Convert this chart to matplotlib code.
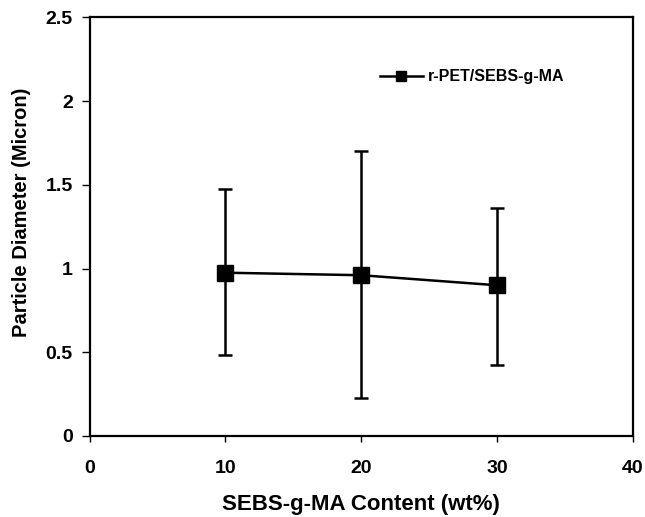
import matplotlib
matplotlib.use("Agg")
import matplotlib.pyplot as plt
from matplotlib.lines import Line2D

# SEBS-g-MA content (wt%) and particle diameter (micron)
content = [10, 20, 30]
diameter = [0.975, 0.96, 0.90]
err_low = [0.485, 0.228, 0.422]
err_high = [1.475, 1.70, 1.36]
series_name = "r-PET/SEBS-g-MA"

plt.rcParams["font.family"] = ["Liberation Sans", "DejaVu Sans"]
plt.rcParams["font.weight"] = "bold"

fig = plt.figure(figsize=(6.45, 5.17), dpi=100)
ax = fig.add_axes([89.5 / 645, 1 - 436 / 517, (633 - 89.5) / 645, (436 - 17.3) / 517])

yerr = [[d - lo for d, lo in zip(diameter, err_low)],
        [hi - d for d, hi in zip(diameter, err_high)]]
ax.errorbar(content, diameter, yerr=yerr, color="black", lw=1.8,
            elinewidth=1.8, capsize=5, capthick=1.8, marker="s",
            markersize=12)

ax.set_xlim(0, 40)
ax.set_ylim(0, 2.5)
ax.set_xticks([0, 10, 20, 30, 40])
ax.set_yticks([0, 0.5, 1, 1.5, 2, 2.5])
ax.set_yticklabels(["0", "0.5", "1", "1.5", "2", "2.5"])
ax.tick_params(labelsize=14, width=1, direction="out")
ax.tick_params(axis="x", length=4, pad=13)
ax.tick_params(axis="y", length=6, pad=6)
for s in ax.spines.values():
    s.set_linewidth(1.6)

ax.set_xlabel("SEBS-g-MA Content (wt%)", fontsize=16, fontweight="bold")
ax.set_ylabel("Particle Diameter (Micron)", fontsize=14.5, fontweight="bold")
ax.xaxis.set_label_coords(0.5, -0.138)
ax.yaxis.set_label_coords(-0.108, 0.535)

handle = Line2D([], [], color="black", lw=1.8, marker="s", markersize=6.5)
ax.legend([handle], [series_name], loc="center left",
          bbox_to_anchor=(0.534, 0.858), frameon=False, borderpad=0,
          borderaxespad=0, prop={"size": 11.5, "weight": "bold"},
          handlelength=2.7, handletextpad=0.3)

fig.savefig("out.png", dpi=100)
